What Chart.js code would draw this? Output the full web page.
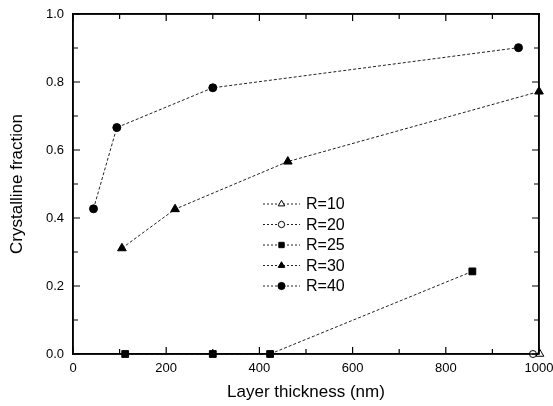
<!DOCTYPE html>
<html>
<head>
<meta charset="utf-8">
<script src="https://cdn.jsdelivr.net/npm/chart.js@4/dist/chart.umd.min.js"></script>
<style>
  html, body { margin: 0; padding: 0; background: #fff; }
  #wrap { width: 553px; height: 406px; position: relative; }
</style>
</head>
<body>
<div id="wrap"><canvas id="c" width="553" height="406"></canvas></div>
<script>
// ---- data ----
const seriesLabels = ['R=10', 'R=20', 'R=25', 'R=30', 'R=40'];
const r10x = [1002];
const r10y = [0];
const r20x = [987];
const r20y = [0];
const r25x = [112, 300, 423, 857];
const r25y = [0, 0, 0, 0.243];
const r30x = [105, 219, 461, 1000];
const r30y = [0.311, 0.426, 0.566, 0.772];
const r40x = [44, 94, 300, 956];
const r40y = [0.427, 0.666, 0.783, 0.901];
const xTicks = [0, 200, 400, 600, 800, 1000];
const yTicks = [0.0, 0.2, 0.4, 0.6, 0.8, 1.0];

const pts = (xs, ys) => xs.map((x, i) => ({ x: x, y: ys[i] }));
const FONT = '"Liberation Sans", Arial, Helvetica, sans-serif';

function ds(label, data, style, filled, radius) {
  return {
    label: label, data: data, showLine: true,
    borderColor: '#222', borderWidth: 1, borderDash: [3, 2],
    pointStyle: style, pointRadius: radius, pointHoverRadius: radius,
    pointBackgroundColor: filled ? '#000' : '#fff',
    pointBorderColor: '#000', pointBorderWidth: 1,
    clip: false, fill: false, tension: 0
  };
}

const datasets = [
  ds(seriesLabels[0], pts(r10x, r10y), 'triangle', false, 4.5),
  ds(seriesLabels[1], pts(r20x, r20y), 'circle', false, 3.5),
  ds(seriesLabels[2], pts(r25x, r25y), 'rect', true, 4.8),
  ds(seriesLabels[3], pts(r30x, r30y), 'triangle', true, 5),
  ds(seriesLabels[4], pts(r40x, r40y), 'circle', true, 4)
];

function marker(ctx, style, x, y, r, fill) {
  ctx.beginPath();
  if (style === 'circle') {
    ctx.arc(x, y, r, 0, Math.PI * 2);
  } else if (style === 'rect') {
    const s = r * Math.SQRT1_2;
    ctx.rect(x - s, y - s, 2 * s, 2 * s);
  } else {
    ctx.moveTo(x, y - r);
    ctx.lineTo(x + r * 0.866, y + r * 0.5);
    ctx.lineTo(x - r * 0.866, y + r * 0.5);
    ctx.closePath();
  }
  ctx.fillStyle = fill;
  ctx.fill();
  ctx.lineWidth = 1;
  ctx.strokeStyle = '#000';
  ctx.stroke();
}

function drawDecor(chart) {
  const ctx = chart.ctx, a = chart.chartArea;
  const xs = chart.scales.x, ys = chart.scales.y;
  ctx.save();
  ctx.setLineDash([]);
  // legend
  const x0 = 263, x1 = 300, tx = 306, y0 = 204, dy = 20.5;
  chart.data.datasets.forEach((d, i) => {
    const y = y0 + i * dy;
    ctx.strokeStyle = '#222';
    ctx.lineWidth = 1;
    ctx.setLineDash([2, 2]);
    ctx.beginPath();
    ctx.moveTo(x0, y); ctx.lineTo(x1, y);
    ctx.stroke();
    ctx.setLineDash([]);
    const r = Math.min(d.pointRadius, 4.2) * 0.9;
    marker(ctx, d.pointStyle, (x0 + x1) / 2, y, r, d.pointBackgroundColor);
    ctx.fillStyle = '#000';
    ctx.font = '16px ' + FONT;
    ctx.textBaseline = 'middle';
    ctx.textAlign = 'left';
    ctx.fillText(d.label, tx, y + 1);
  });
  // frame
  ctx.setLineDash([]);
  ctx.strokeStyle = '#000';
  ctx.lineWidth = 1.5;
  ctx.strokeRect(a.left, a.top, a.right - a.left, a.bottom - a.top);
  // inward ticks
  ctx.lineWidth = 1.2;
  ctx.beginPath();
  for (let v = 0; v <= 1000; v += 100) {
    const px = xs.getPixelForValue(v);
    const len = (v % 200 === 0) ? 7 : 5;
    ctx.moveTo(px, a.bottom); ctx.lineTo(px, a.bottom - len);
    ctx.moveTo(px, a.top); ctx.lineTo(px, a.top + len);
  }
  for (let k = 0; k <= 10; k++) {
    const py = ys.getPixelForValue(k / 10);
    const len = (k % 2 === 0) ? 7 : 5;
    ctx.moveTo(a.left, py); ctx.lineTo(a.left + len, py);
    ctx.moveTo(a.right, py); ctx.lineTo(a.right - len, py);
  }
  ctx.stroke();
  ctx.restore();
}

const decorPlugin = {
  id: 'decorAll',
  afterDraw(chart) { drawDecor(chart); }
};

const axisBorder = { display: true, color: '#000', width: 1.5 };

new Chart(document.getElementById('c'), {
  type: 'scatter',
  data: { datasets: datasets },
  options: {
    responsive: false, animation: false, devicePixelRatio: 1,
    layout: { autoPadding: false, padding: { top: 14, right: 14, left: 0, bottom: 0 } },
    plugins: { legend: { display: false }, tooltip: { enabled: false } },
    scales: {
      x: {
        type: 'linear', min: 0, max: 1000,
        afterBuildTicks: (s) => { s.ticks = xTicks.map(v => ({ value: v })); },
        afterFit: (s) => { s.height = 52; s.paddingLeft = 0; s.paddingRight = 0; },
        grid: { display: false, drawTicks: false, tickLength: 0 },
        border: axisBorder,
        ticks: { color: '#000', font: { family: FONT, size: 13 }, padding: 7, maxRotation: 0, autoSkip: false, callback: (v) => String(v) },
        title: { display: true, text: 'Layer thickness (nm)', color: '#000', font: { family: FONT, size: 17 }, padding: { top: 0, bottom: 3 } }
      },
      x2: {
        type: 'linear', position: 'top', min: 0, max: 1000,
        afterFit: (s) => { s.height = 0; s.paddingLeft = 0; s.paddingRight = 0; },
        grid: { display: false, drawTicks: false, tickLength: 0 },
        border: axisBorder,
        ticks: { display: false }
      },
      y: {
        type: 'linear', min: 0, max: 1,
        afterBuildTicks: (s) => { s.ticks = yTicks.map(v => ({ value: v })); },
        afterFit: (s) => { s.width = 73; s.paddingTop = 0; s.paddingBottom = 0; },
        grid: { display: false, drawTicks: false, tickLength: 0 },
        border: axisBorder,
        ticks: { color: '#000', font: { family: FONT, size: 13 }, padding: 9, callback: (v) => Number(v).toFixed(1) },
        title: { display: true, text: 'Crystalline fraction', color: '#000', font: { family: FONT, size: 17 }, padding: { top: 7, bottom: 0 } }
      },
      y2: {
        type: 'linear', position: 'right', min: 0, max: 1,
        afterFit: (s) => { s.width = 0; s.paddingTop = 0; s.paddingBottom = 0; },
        grid: { display: false, drawTicks: false, tickLength: 0 },
        border: axisBorder,
        ticks: { display: false }
      }
    }
  },
  plugins: [decorPlugin]
});
</script>
</body>
</html>
